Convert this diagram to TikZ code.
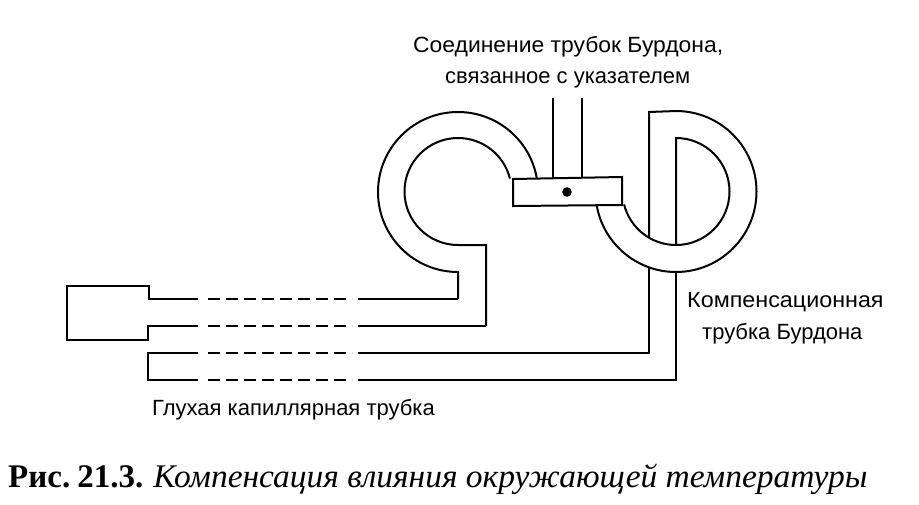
\documentclass[tikz,border=0pt]{standalone}
\usepackage{fontspec}
\setmainfont{Liberation Serif}
\newfontfamily\labelfont[FakeStretch=1.0]{Liberation Sans}
\newfontfamily\lblwide[FakeStretch=1.04]{Liberation Sans}
\newfontfamily\lblwider[FakeStretch=1.06]{Liberation Sans}
\newfontfamily\capit[FakeStretch=1.014]{Liberation Serif}
\begin{document}
\begin{tikzpicture}[x=1pt,y=-1pt,
  tube/.style={line width=2pt,line join=miter},
  lbl/.style={inner sep=0pt,font=\labelfont\fontsize{22}{22}\selectfont,text=black,anchor=base west},
  gap/.style={line width=2pt,dash pattern=on 11.5pt off 6.5pt}]
\useasboundingbox (0,0) rectangle (919,504);
\fill[white] (0,0) rectangle (919,504);
% left coil
\draw[tube] (458,299) -- (458,272) arc[start angle=90,end angle=350,radius=80];
\draw[tube] (486,326) -- (486,245) -- (458,245) arc[start angle=90,end angle=346,radius=53.5];
% bulb and capillary tube
\draw[tube] (198,299) -- (149,299) -- (149,286) -- (67,286) -- (67,340) -- (148,340) -- (148,326) -- (198,326);
\draw[gap] (208,299) -- (352,299);
\draw[gap] (208,326) -- (352,326);
\draw[tube] (358,299) -- (458,299);
\draw[tube] (358,326) -- (486,326);
% blind tube
\draw[tube] (198,353) -- (148,353) -- (148,380) -- (198,380);
\draw[gap] (208,353) -- (352,353);
\draw[gap] (208,380) -- (352,380);
\draw[tube] (358,353) -- (649,353) -- (649,267);
\draw[tube] (358,380) -- (676,380) -- (676,272);
% right coil
\draw[tube] (649,237) -- (649,112) -- (676,111) arc[start angle=-90,end angle=170,radius=80.5];
\draw[tube] (676,245) -- (676,138) arc[start angle=-90,end angle=166,radius=53.5];
% junction
\draw[tube] (553,98) -- (553,179);
\draw[tube] (582,98) -- (582,178.5);
\draw[tube,fill=white] (513,179) -- (622,177) -- (622,205) -- (513,206) -- cycle;
\fill (567,192) circle[radius=4.8];
% labels
\node[lbl,font=\lblwide\fontsize{22}{22}\selectfont] (t1) at (413,52) {Соединение трубок Бурдона,};
\node[lbl] (t2) at (445,83) {связанное с указателем};
\node[lbl,font=\lblwider\fontsize{22}{22}\selectfont] (t3) at (687,307) {Компенсационная};
\node[lbl] (t4) at (702,339) {трубка Бурдона};
\node[lbl] (t5) at (152,415) {Глухая капиллярная трубка};
\node[inner sep=0pt,anchor=base west,font=\fontsize{33}{33}\selectfont] (cap) at (8,487) {\textbf{Рис.\hspace{-4pt} 21.3.}\hspace{-1pt} {\capit\itshape Компенсация влияния окружающей температуры}};
\end{tikzpicture}
\end{document}
